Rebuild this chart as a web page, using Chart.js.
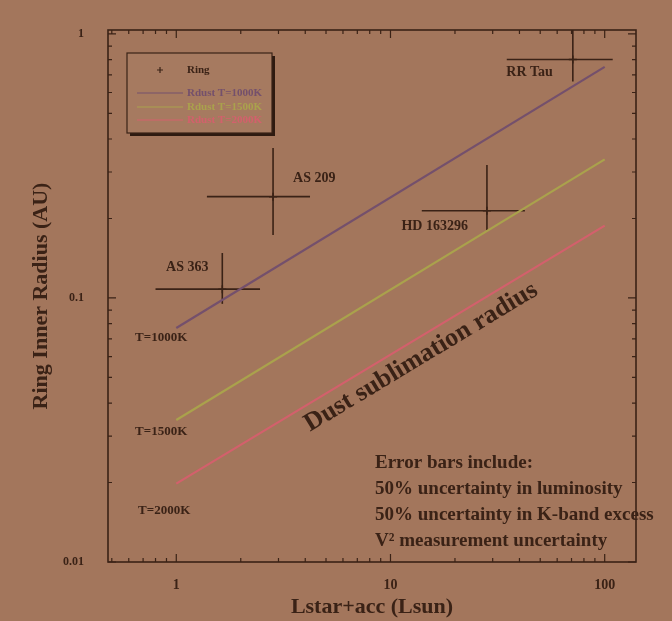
<!DOCTYPE html>
<html>
<head>
<meta charset="utf-8">
<script src="https://cdn.jsdelivr.net/npm/chart.js@4.4.1/dist/chart.umd.min.js"></script>
<style>
  html, body { margin: 0; padding: 0; background: #a3765c; }
  #wrap { width: 672px; height: 621px; position: relative; }
</style>
</head>
<body>
<div id="wrap"><canvas id="myChart" width="672" height="621"></canvas></div>
<script>
var ringNames = ['AS 363', 'AS 209', 'HD 163296', 'RR Tau'];
var ringL   = [1.64, 2.83, 28.2, 71];
var ringLlo = [0.80, 1.39, 14.0, 34.9];
var ringLhi = [2.46, 4.21, 42.4, 109];
var ringR   = [0.108, 0.242, 0.214, 0.80];
var ringRlo = [0.095, 0.173, 0.181, 0.66];
var ringRhi = [0.148, 0.37, 0.319, 1.3];

// dust sublimation radius lines
var sublL  = [1, 100];
var r1000  = [0.077, 0.75];
var r1500  = [0.0345, 0.335];
var r2000  = [0.0198, 0.188];
var sublNames = ['Rdust T=1000K', 'Rdust T=1500K', 'Rdust T=2000K'];
var tempLabels = ['T=1000K', 'T=1500K', 'T=2000K'];

var xTicks = [1, 10, 100];
var yTicks = [0.01, 0.1, 1];

var noteLines = ['Error bars include:', '50% uncertainty in luminosity',
  '50% uncertainty in K-band excess', 'V\u00b2 measurement uncertainty'];

var ink = '#3a2216';
var serif = '"Liberation Serif", "DejaVu Serif", serif';
var lineColors = ['#74506c', '#aaa24c', '#d3606c'];

function pts(xs, ys){
  var out = [];
  for (var i = 0; i < xs.length; i++) out.push({x: xs[i], y: ys[i]});
  return out;
}

var datasets = [];
datasets.push({
  label: 'Ring', type: 'scatter', data: pts(ringL, ringR),
  pointStyle: 'cross', pointRadius: 4, borderColor: ink, borderWidth: 1.5, showLine: false
});
[r1000, r1500, r2000].forEach(function(r, i){
  datasets.push({
    label: sublNames[i], type: 'line', data: pts(sublL, r),
    borderColor: lineColors[i], borderWidth: 2.2, pointRadius: 0, fill: false
  });
});
// error bars
for (var i = 0; i < ringL.length; i++) {
  datasets.push({ label: 'err', type: 'line', data: [{x: ringLlo[i], y: ringR[i]}, {x: ringLhi[i], y: ringR[i]}],
    borderColor: ink, borderWidth: 1.6, pointRadius: 0 });
  datasets.push({ label: 'err', type: 'line', data: [{x: ringL[i], y: ringRlo[i]}, {x: ringL[i], y: ringRhi[i]}],
    borderColor: ink, borderWidth: 1.6, pointRadius: 0 });
}

var extras = {
  id: 'extras',
  afterDatasetsDraw: function(chart){
    var ctx = chart.ctx, a = chart.chartArea;
    var xs = chart.scales.x, ys = chart.scales.y;
    ctx.save();
    // frame
    ctx.strokeStyle = ink; ctx.lineWidth = 1.6;
    ctx.strokeRect(a.left, a.top, a.right - a.left, a.bottom - a.top);
    // inward ticks, all four sides
    ctx.lineWidth = 1.2;
    var d, k, v, p, len;
    for (d = -1; d <= 2; d++) {
      for (k = 1; k <= 9; k++) {
        v = k * Math.pow(10, d);
        if (v < xs.min || v > xs.max) continue;
        p = xs.getPixelForValue(v); len = k == 1 ? 8 : 4;
        ctx.beginPath();
        ctx.moveTo(p, a.bottom); ctx.lineTo(p, a.bottom - len);
        ctx.moveTo(p, a.top); ctx.lineTo(p, a.top + len);
        ctx.stroke();
      }
    }
    for (d = -2; d <= 0; d++) {
      for (k = 1; k <= 9; k++) {
        v = k * Math.pow(10, d);
        if (v < ys.min || v > ys.max) continue;
        p = ys.getPixelForValue(v); len = k == 1 ? 8 : 4;
        ctx.beginPath();
        ctx.moveTo(a.left, p); ctx.lineTo(a.left + len, p);
        ctx.moveTo(a.right, p); ctx.lineTo(a.right - len, p);
        ctx.stroke();
      }
    }

    // legend box
    var lx = 127, ly = 53, lw = 145, lh = 80;
    ctx.fillStyle = '#2e1a10';
    ctx.fillRect(lx + 3, ly + 3, lw, lh);
    ctx.fillStyle = '#a67a60';
    ctx.fillRect(lx, ly, lw, lh);
    ctx.strokeStyle = ink; ctx.lineWidth = 1.2;
    ctx.strokeRect(lx, ly, lw, lh);
    ctx.font = 'bold 11px ' + serif;
    ctx.textBaseline = 'middle'; ctx.textAlign = 'left';
    var legendItems = chart.data.datasets.filter(function(ds){ return ds.label != 'err'; });
    var rowsY = [ly + 17, ly + 40, ly + 54, ly + 67];
    legendItems.forEach(function(ds, i){
      var y = rowsY[i];
      ctx.strokeStyle = ds.borderColor; ctx.fillStyle = i == 0 ? ink : ds.borderColor;
      ctx.lineWidth = 1.2;
      ctx.beginPath();
      if (i == 0) {
        ctx.moveTo(lx + 30, y); ctx.lineTo(lx + 36, y);
        ctx.moveTo(lx + 33, y - 3); ctx.lineTo(lx + 33, y + 3);
      } else {
        ctx.moveTo(lx + 10, y); ctx.lineTo(lx + 56, y);
      }
      ctx.stroke();
      ctx.fillText(ds.label, lx + 60, y);
    });

    // source labels
    var offs = [[-35, -22, 'center'], [20, -18, 'left'], [-19, 16, 'right'], [-20, 13, 'right']];
    ctx.fillStyle = ink; ctx.font = 'bold 14px ' + serif;
    for (var i = 0; i < ringNames.length; i++) {
      ctx.textAlign = offs[i][2];
      ctx.fillText(ringNames[i], xs.getPixelForValue(ringL[i]) + offs[i][0], ys.getPixelForValue(ringR[i]) + offs[i][1]);
    }

    // temperature labels at line starts
    var toffs = [[11, 10], [11, 12], [14, 27]];
    ctx.font = 'bold 13px ' + serif; ctx.textAlign = 'right';
    [r1000, r1500, r2000].forEach(function(r, i){
      ctx.fillText(tempLabels[i], xs.getPixelForValue(sublL[0]) + toffs[i][0], ys.getPixelForValue(r[0]) + toffs[i][1]);
    });

    // rotated text along the hottest line
    var x0 = xs.getPixelForValue(sublL[0]), y0 = ys.getPixelForValue(r2000[0]);
    var x1 = xs.getPixelForValue(sublL[1]), y1 = ys.getPixelForValue(r2000[1]);
    var ang = Math.atan2(y1 - y0, x1 - x0);
    var cx = xs.getPixelForValue(13.9), cy = ys.getPixelForValue(0.0597);
    ctx.save();
    ctx.translate(cx, cy); ctx.rotate(ang);
    ctx.textAlign = 'center'; ctx.font = 'bold 26px ' + serif;
    ctx.fillText('Dust sublimation radius', 0, 0);
    ctx.restore();

    // error bar note
    ctx.textAlign = 'left'; ctx.font = 'bold 19px ' + serif;
    noteLines.forEach(function(t, i){
      ctx.fillText(t, 375, 463 + i * 26);
    });
    ctx.restore();
  }
};

var ctx1 = document.getElementById('myChart');
var myChart = new Chart(ctx1, {
  data: { datasets: datasets },
  options: {
    responsive: false, animation: false,
    layout: { padding: { top: 30, right: 36, left: 28, bottom: 0 } },
    plugins: { legend: { display: false }, tooltip: { enabled: false } },
    scales: {
      x: {
        type: 'logarithmic', min: 0.48, max: 140,
        afterBuildTicks: function(s){ s.ticks = xTicks.map(function(v){ return {value: v}; }); },
        afterFit: function(s){ s.height = 59; },
        grid: { display: false }, border: { display: false },
        ticks: { color: ink, padding: 7, font: { family: serif, size: 14, weight: 'bold' },
          maxRotation: 0, callback: function(v){ return String(v); } },
        title: { display: true, text: 'Lstar+acc (Lsun)', color: ink, padding: {top: 0, bottom: 0},
          font: { family: serif, size: 22, weight: 'bold' } }
      },
      y: {
        type: 'logarithmic', min: 0.01, max: 1.035,
        afterBuildTicks: function(s){ s.ticks = yTicks.map(function(v){ return {value: v}; }); },
        afterFit: function(s){ s.width = 80; },
        grid: { display: false }, border: { display: false },
        ticks: { color: ink, padding: 16, font: { family: serif, size: 12, weight: 'bold' },
          callback: function(v){ return String(v); } },
        title: { display: true, text: 'Ring Inner Radius (AU)', color: ink, padding: {top: 0, bottom: 0},
          font: { family: serif, size: 22, weight: 'bold' } }
      }
    }
  },
  plugins: [extras]
});
</script>
</body>
</html>
